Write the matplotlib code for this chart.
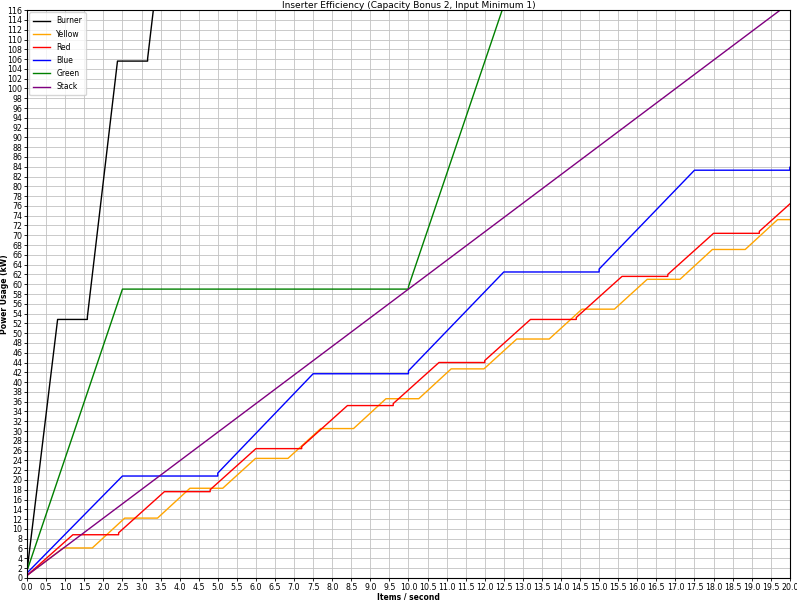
import numpy as np
import matplotlib
matplotlib.use('Agg')
import matplotlib.pyplot as plt

# Power usage (kW) vs items/second
burner_x = [0, 0.80, 1.58, 1.58, 2.37, 3.16, 3.16, 3.95]
burner_y = [1.5, 52.8, 52.8, 53.3, 105.6, 105.6, 106.1, 158.4]

yellow_x = [0, 0.95, 1.71, 2.56, 3.42, 4.27, 5.13, 5.99, 6.84, 7.70, 8.56, 9.41,
            10.27, 11.12, 11.98, 12.84, 13.69, 14.55, 15.40, 16.26, 17.12, 17.97,
            18.83, 19.68, 20.0]
yellow_y = [0.5, 6.1, 6.1, 12.2, 12.2, 18.3, 18.3, 24.4, 24.4, 30.5, 30.5, 36.6,
            36.6, 42.7, 42.7, 48.8, 48.8, 54.9, 54.9, 61.0, 61.0, 67.1,
            67.1, 73.2, 73.2]

red_x = [0, 1.2, 2.4, 2.4, 3.6, 4.8, 4.8, 6.0, 7.2, 7.2, 8.4, 9.6, 9.6, 10.8, 12.0,
         12.0, 13.2, 14.4, 14.4, 15.6, 16.8, 16.8, 18.0, 19.2, 19.2, 20.0]
red_y = [0.5, 8.8, 8.8, 9.2, 17.6, 17.6, 18.0, 26.4, 26.4, 26.8, 35.2, 35.2, 35.6,
         44.0, 44.0, 44.4, 52.8, 52.8, 53.2, 61.6, 61.6, 62.0, 70.4, 70.4, 70.8, 76.4]

blue_x = [0, 2.5, 5.0, 5.0, 7.5, 10.0, 10.0, 12.5, 15.0, 15.0, 17.5, 20.0, 20.0]
blue_y = [1.0, 20.8, 20.8, 21.4, 41.7, 41.7, 42.3, 62.5, 62.5, 63.1, 83.3, 83.3, 83.9]

green_x = [0, 2.5, 10.0, 10.0, 12.5]
green_y = [1.5, 59.0, 59.0, 59.5, 117.0]

stack_x = [0, 20.0]
stack_y = [0.5, 117.5]

series = [
    ('Burner', burner_x, burner_y, 'black'),
    ('Yellow', yellow_x, yellow_y, 'orange'),
    ('Red', red_x, red_y, 'red'),
    ('Blue', blue_x, blue_y, 'blue'),
    ('Green', green_x, green_y, 'green'),
    ('Stack', stack_x, stack_y, 'purple'),
]

fig = plt.figure(figsize=(7.97, 6.0), dpi=100)
ax = fig.add_axes([0.034, 0.037, 0.957, 0.946])

for name, xs, ys, color in series:
    ax.plot(xs, ys, color=color, linewidth=1.0, label=name)

ax.set_xlim(0, 20)
ax.set_ylim(0, 116)
ax.set_xticks(np.arange(0, 20.01, 0.5))
ax.set_yticks(np.arange(0, 117, 2))
ax.tick_params(labelsize=5.7, length=2.5, pad=1, width=0.6)
ax.grid(True, color='#c2c2c2', linewidth=0.6)
ax.set_axisbelow(True)

ax.set_title('Inserter Efficiency (Capacity Bonus 2, Input Minimum 1)', fontsize=6.5, pad=1.5)
ax.set_xlabel('Items / second', fontsize=5.5, fontweight='bold', labelpad=0.5)
ax.set_ylabel('Power Usage (kW)', fontsize=5.5, fontweight='bold')
ax.yaxis.set_label_coords(-0.0235, 0.5)
ax.legend(loc='upper left', fontsize=5.5, labelspacing=0.55, borderaxespad=0.3,
          handlelength=2.2, borderpad=0.5)

plt.savefig('out.png', dpi=100)
